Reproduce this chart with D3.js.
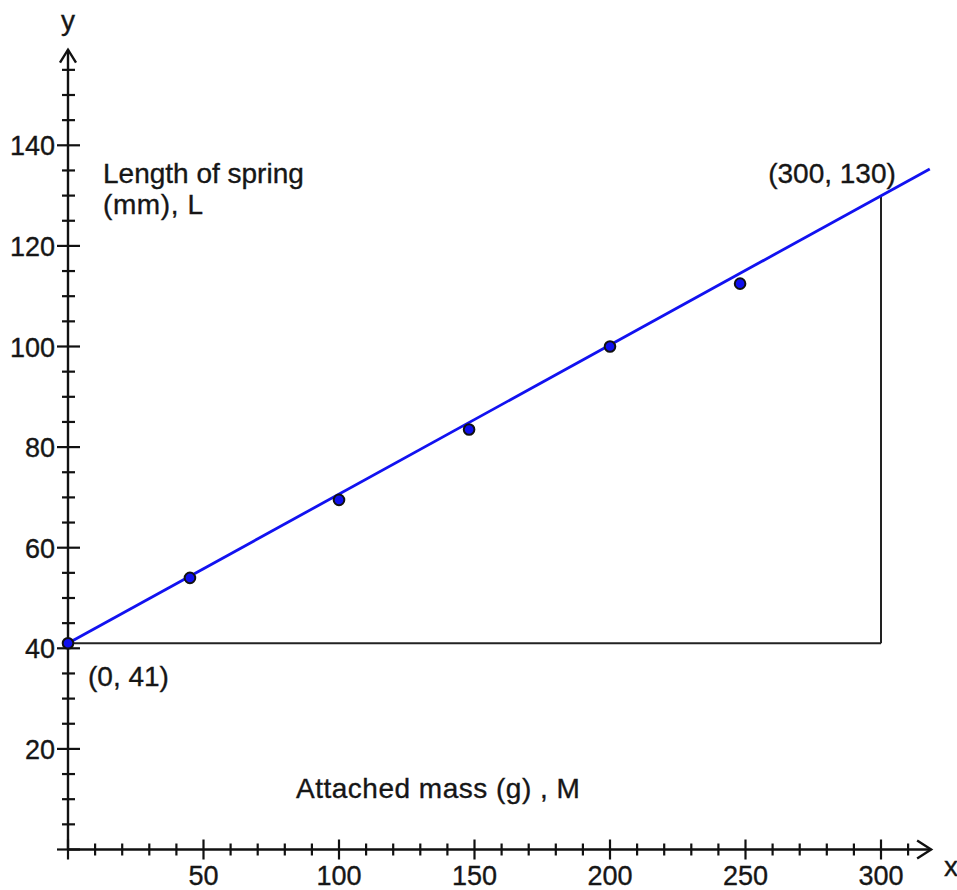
<!DOCTYPE html>
<html>
<head>
<meta charset="utf-8">
<script src="https://cdn.jsdelivr.net/npm/d3@7"></script>
<style>
  html, body { margin: 0; padding: 0; background: #ffffff; }
  svg { display: block; }
  text { font-family: "Liberation Sans", Arial, sans-serif; fill: #161616; stroke: #161616; stroke-width: 0.35px; }
</style>
</head>
<body>
<svg id="chart" width="957" height="890"></svg>
<script>
// ---- data ----
const massValues = [0, 45, 100, 148, 200, 248];
const lengthValues = [41, 54, 69.5, 83.5, 100, 112.5];
const fitLineMass = [0, 318];
const fitLineLength = [41, 135.3];
const guideCorner = { x0: 0, y0: 41, x1: 300, y1: 130 };
const xTickLabels = [50, 100, 150, 200, 250, 300];
const yTickLabels = [20, 40, 60, 80, 100, 120, 140];
const xMinorTicks = [10, 20, 30, 40, 60, 70, 80, 90, 110, 120, 130, 140, 160, 170, 180, 190, 210, 220, 230, 240, 260, 270, 280, 290, 310];
const yMinorTicks = [5, 10, 15, 25, 30, 35, 45, 50, 55, 65, 70, 75, 85, 90, 95, 105, 110, 115, 125, 130, 135, 145, 150, 155];
const annotations = [
  { text: "(300, 130)", x: 832, y: 183, anchor: "middle", ls: 0 },
  { text: "(0, 41)", x: 88, y: 686, anchor: "start", ls: 0 },
  { text: "Length of spring", x: 103, y: 183, anchor: "start", ls: 0 },
  { text: "(mm), L", x: 103, y: 214, anchor: "start", ls: 0.6 },
  { text: "Attached mass (g) , M", x: 296, y: 798, anchor: "start", ls: 0.5 }
];

// ---- scales ----
const x = d3.scaleLinear().domain([0, 300]).range([68, 881]);
const y = d3.scaleLinear().domain([0, 140]).range([849.5, 145.3]);

const svg = d3.select("#chart");
const X0 = x(0), Y0 = y(0);

// ---- axes lines ----
const axisG = svg.append("g").attr("stroke", "#111").attr("stroke-width", 2.4).attr("fill", "none");
axisG.append("line").attr("x1", X0).attr("y1", Y0).attr("x2", X0).attr("y2", y(159));
axisG.append("line").attr("x1", X0).attr("y1", Y0).attr("x2", x(318.5)).attr("y2", Y0);
// arrows
axisG.append("path").attr("d", `M${X0 - 8},${y(159) + 13} L${X0},${y(159)} L${X0 + 8},${y(159) + 13}`);
axisG.append("path").attr("d", `M${x(318.5) - 14},${Y0 - 9} L${x(318.5)},${Y0} L${x(318.5) - 14},${Y0 + 9}`);

// ticks (crossing the axis)
const tickG = svg.append("g").attr("stroke", "#111").attr("stroke-width", 2.2);
tickG.selectAll(".xmaj").data([0].concat(xTickLabels)).join("line")
  .attr("x1", d => x(d)).attr("x2", d => x(d)).attr("y1", Y0 - 10).attr("y2", Y0 + 10);
tickG.selectAll(".xmin").data(xMinorTicks).join("line")
  .attr("x1", d => x(d)).attr("x2", d => x(d)).attr("y1", Y0 - 6).attr("y2", Y0 + 6);
tickG.selectAll(".ymaj").data([0].concat(yTickLabels)).join("line")
  .attr("y1", d => y(d)).attr("y2", d => y(d)).attr("x1", X0 - 11).attr("x2", X0 + 12);
tickG.selectAll(".ymin").data(yMinorTicks).join("line")
  .attr("y1", d => y(d)).attr("y2", d => y(d)).attr("x1", X0 - 6).attr("x2", X0 + 7);

// tick labels
svg.append("g").selectAll("text").data(xTickLabels).join("text")
  .attr("x", d => x(d)).attr("y", 885).attr("text-anchor", "middle")
  .attr("font-size", 27).text(d => d);
svg.append("g").selectAll("text").data(yTickLabels).join("text")
  .attr("x", 55).attr("y", d => y(d) + 10).attr("text-anchor", "end")
  .attr("font-size", 27).text(d => d);

// axis names
svg.append("text").attr("x", 944).attr("y", 876).attr("font-size", 28).text("x");
svg.append("text").attr("x", X0).attr("y", 30).attr("text-anchor", "middle").attr("font-size", 28).text("y");

// guide lines
const guideG = svg.append("g").attr("stroke", "#222").attr("stroke-width", 2).attr("fill", "none");
guideG.append("line").attr("x1", x(guideCorner.x0)).attr("y1", y(guideCorner.y0))
  .attr("x2", x(guideCorner.x1)).attr("y2", y(guideCorner.y0));
guideG.append("line").attr("x1", x(guideCorner.x1)).attr("y1", y(guideCorner.y0))
  .attr("x2", x(guideCorner.x1)).attr("y2", y(guideCorner.y1));

// fit line
const fitPts = fitLineMass.map((m, i) => [m, fitLineLength[i]]);
svg.append("path").datum(fitPts)
  .attr("d", d3.line().x(d => x(d[0])).y(d => y(d[1])))
  .attr("stroke", "#1212f0").attr("stroke-width", 2.8).attr("fill", "none");

// points
svg.append("g").selectAll("circle").data(massValues.map((m, i) => [m, lengthValues[i]])).join("circle")
  .attr("cx", d => x(d[0])).attr("cy", d => y(d[1])).attr("r", 5.3)
  .attr("fill", "#1010ee").attr("stroke", "#111").attr("stroke-width", 2);

// annotations
svg.append("g").selectAll("text").data(annotations).join("text")
  .attr("x", d => d.x).attr("y", d => d.y).attr("text-anchor", d => d.anchor)
  .attr("letter-spacing", d => d.ls)
  .attr("font-size", 28).text(d => d.text);
</script>
</body>
</html>
